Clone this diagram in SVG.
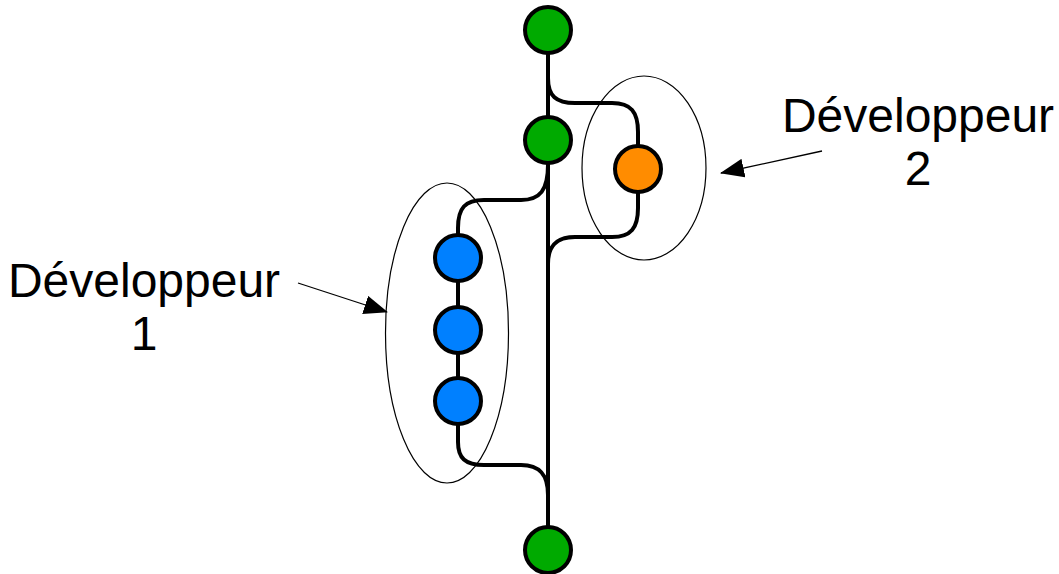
<svg xmlns="http://www.w3.org/2000/svg" width="1059" height="574" viewBox="0 0 1059 574">
  <style>
    .branch { fill: none; stroke: #000; stroke-width: 4; }
    .commit { stroke: #000; stroke-width: 4; }
    .green { fill: #00aa00; }
    .blue { fill: #0080ff; }
    .orange { fill: #ff8c00; }
    .group { fill: none; stroke: #000; stroke-width: 1.2; }
    .pointer { fill: none; stroke: #000; stroke-width: 1.3; }
    .label { font-family: "Liberation Sans", Arial, sans-serif; font-size: 48px; fill: #000; text-anchor: middle; }
  </style>
  <defs>
    <marker id="arrow" viewBox="0 0 24 19" refX="23" refY="9.5" markerWidth="24" markerHeight="19" markerUnits="userSpaceOnUse" orient="auto">
      <path d="M0,0 L24,9.5 L0,19 Z" fill="#000"/>
    </marker>
  </defs>

  <g id="connectors">
    <!-- main line -->
    <path class="branch" d="M548,30 L548,550"/>
    <!-- developer 2 branch -->
    <path class="branch" d="M548,78 C548,96 556,103 575,103 L612,103 C631,103 638,112 638,132 L638,169"/>
    <path class="branch" d="M638,169 L638,208 C638,228 631,237 612,237 L575,237 C556,237 548,246 548,264"/>
    <!-- developer 1 branch -->
    <path class="branch" d="M548,165 C548,190 540,200 521,200 L484,200 C465,200 458,208 458,228 L458,258"/>
    <path class="branch" d="M458,258 L458,442 C458,458 465,465 484,465 L521,465 C540,465 548,475 548,495"/>
    <!-- group outlines -->
    <ellipse class="group" cx="644" cy="168" rx="62" ry="92"/>
    <ellipse class="group" cx="447" cy="333" rx="61.5" ry="150"/>
    <!-- label pointers -->
    <path class="pointer" d="M822,151 L721,173" marker-end="url(#arrow)"/>
    <path class="pointer" d="M298,283 L387,312" marker-end="url(#arrow)"/>
  </g>

  <g id="commit-top"><circle class="commit green" cx="548" cy="30" r="23"/></g>
  <g id="commit-main-2"><circle class="commit green" cx="548" cy="140" r="23"/></g>
  <g id="commit-dev2"><circle class="commit orange" cx="638" cy="169" r="23"/></g>
  <g id="commit-dev1-a"><circle class="commit blue" cx="458" cy="258" r="23"/></g>
  <g id="commit-dev1-b"><circle class="commit blue" cx="458" cy="330" r="23"/></g>
  <g id="commit-dev1-c"><circle class="commit blue" cx="458" cy="401" r="23"/></g>
  <g id="commit-bottom"><circle class="commit green" cx="548" cy="550" r="23"/></g>

  <g id="label-dev2">
    <text class="label" x="918" y="132">Développeur</text>
    <text class="label" x="918" y="185">2</text>
  </g>
  <g id="label-dev1">
    <text class="label" x="144" y="297">Développeur</text>
    <text class="label" x="144" y="350">1</text>
  </g>
</svg>
